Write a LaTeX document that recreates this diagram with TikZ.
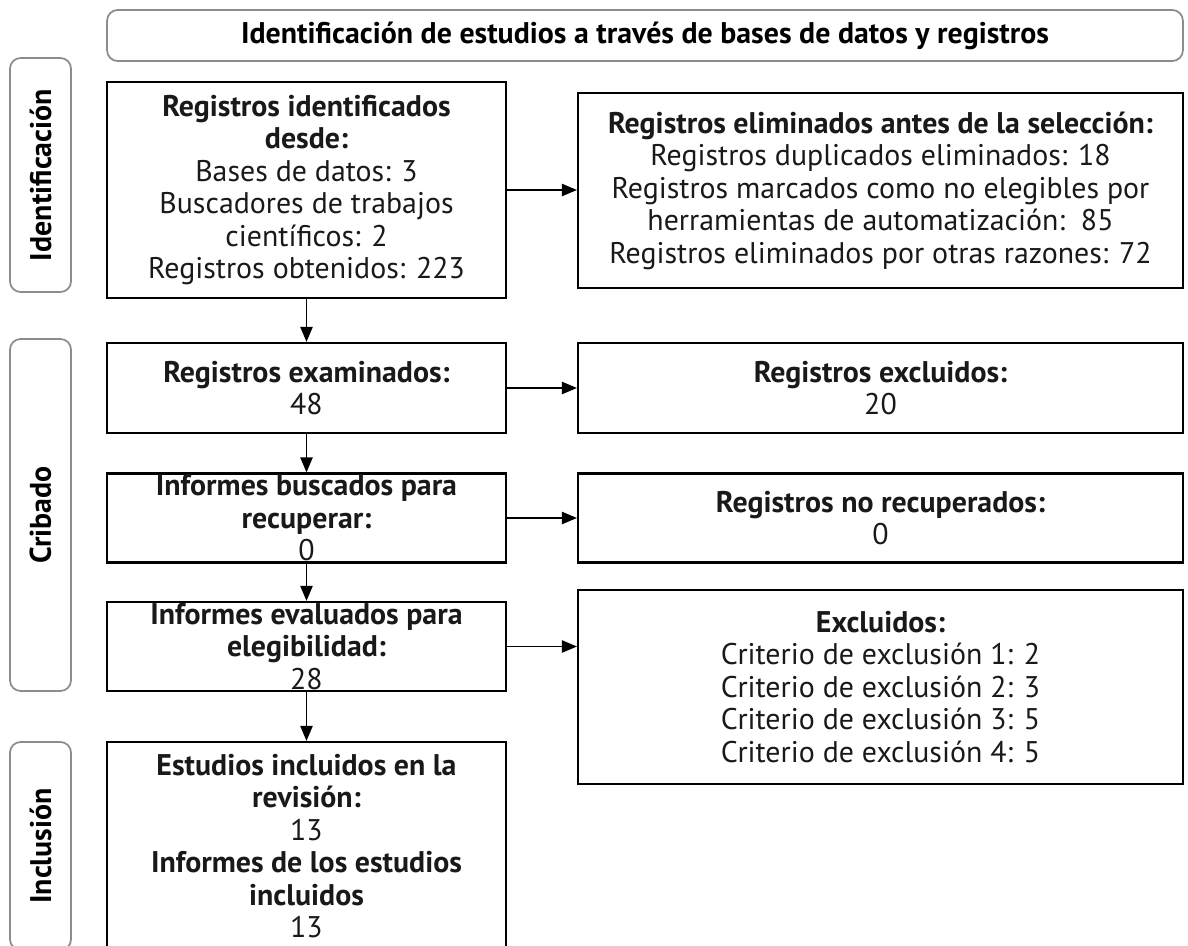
\documentclass[tikz,border=0pt]{standalone}
\usepackage{fontspec}
\setmainfont{PT Sans}
\usetikzlibrary{arrows.meta}

\begin{document}
\begin{tikzpicture}[x=0.02cm, y=-0.02cm,
	every node/.style={font=\fontsize{17}{18.5}\selectfont},
	caja/.style={draw, line width=1.3pt, inner sep=0pt, minimum width=7.98cm},
	cajader/.style={draw, line width=1.3pt, inner sep=0pt, minimum width=12.1cm},
	fase/.style={draw=black!45, line width=1pt, rounded corners=6pt, inner sep=0pt,
		font=\bfseries\fontsize{17}{18.5}\selectfont},
	texto/.style={align=center, text=black!90},
	flecha/.style={-{Triangle[length=8.5pt,width=7pt]}, line width=0.7pt}]
	\clip (0,0) rectangle (1188,946);
	% fases
	\node[fase, minimum width=21.52cm, minimum height=1.02cm] (encab) at (645,35.5)
		{Identificación de estudios a través de bases de datos y registros};
	\node[fase, rotate=90, minimum width=4.68cm, minimum height=1.22cm] (fIdent) at (40.5,175) {Identificación};
	\node[fase, rotate=90, minimum width=7.04cm, minimum height=1.22cm] (fCrib) at (40.5,515) {Cribado};
	\node[fase, rotate=90, minimum width=4.16cm, minimum height=1.22cm] (fIncl) at (40.5,846) {Inclusión};
	% columna izquierda
	\node[caja, minimum height=4.32cm, label={[texto]center:{\textbf{Registros identificados}\\\textbf{desde:}\\
		Bases de datos: 3\\Buscadores de trabajos\\científicos: 2\\Registros obtenidos: 223}}] (regId) at (306.5,190) {};
	\node[caja, minimum height=1.8cm, label={[texto]center:{\textbf{Registros examinados:}\\48}}] (regExam) at (306.5,388) {};
	\node[caja, minimum height=1.78cm, label={[texto]center:{\textbf{Informes buscados para}\\\textbf{recuperar:}\\0}}] (infBusc) at (306.5,518) {};
	\node[caja, minimum height=1.78cm, label={[texto]center:{\textbf{Informes evaluados para}\\\textbf{elegibilidad:}\\28}}] (infEval) at (306.5,646.5) {};
	\node[caja, minimum height=4.16cm, label={[texto]center:{\textbf{Estudios incluidos en la}\\\textbf{revisión:}\\13\\
		\textbf{Informes de los estudios}\\\textbf{incluidos}\\13}}] (estIncl) at (306.5,846) {};
	% columna derecha
	\node[cajader, minimum height=3.9cm, label={[texto]center:{\textbf{Registros eliminados antes de la selección:}\\
		Registros duplicados eliminados: 18\\Registros marcados como no elegibles por\\
		herramientas de automatización:~~85\\Registros eliminados por otras razones: 72}}] (regElim) at (880.5,190.5) {};
	\node[cajader, minimum height=1.8cm, label={[texto]center:{\textbf{Registros excluidos:}\\20}}] (regExcl) at (880.5,388) {};
	\node[cajader, minimum height=1.78cm, label={[texto]center:{\textbf{Registros no recuperados:}\\0}}] (regNoRec) at (880.5,518) {};
	\node[cajader, minimum height=3.88cm, label={[texto]center:{\textbf{Excluidos:}\\Criterio de exclusión 1: 2\\
		Criterio de exclusión 2: 3\\Criterio de exclusión 3: 5\\Criterio de exclusión 4: 5}}] (excl) at (880.5,687) {};
	% flechas
	\draw[flecha] (regId) -- (regExam);
	\draw[flecha] (regExam) -- (infBusc);
	\draw[flecha] (infBusc) -- (infEval);
	\draw[flecha] (infEval) -- (estIncl);
	\draw[flecha] (regId.east) -- (regId.east -| regElim.west);
	\draw[flecha] (regExam) -- (regExcl);
	\draw[flecha] (infBusc) -- (regNoRec);
	\draw[flecha] (infEval.east) -- (infEval.east -| excl.west);
\end{tikzpicture}
\end{document}
